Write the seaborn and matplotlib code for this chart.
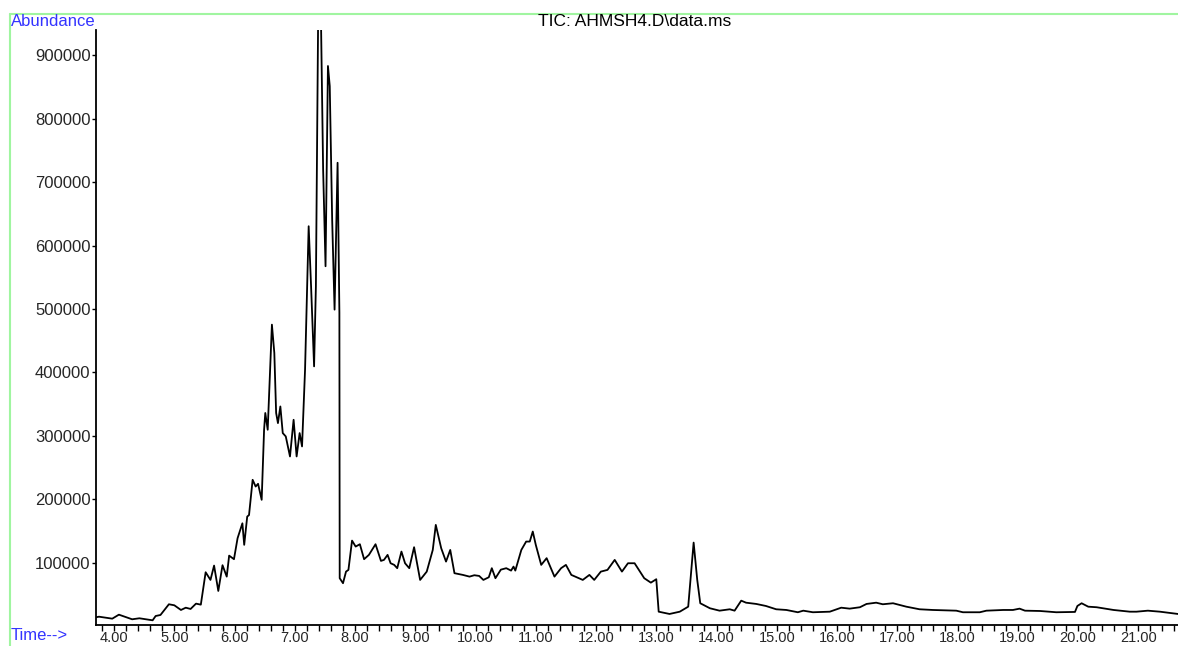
import matplotlib
matplotlib.use("Agg")
import matplotlib.pyplot as plt
from matplotlib.lines import Line2D
from matplotlib.ticker import MultipleLocator, FormatStrFormatter
import pandas as pd
import seaborn as sns

# retention time (min) and abundance
time_min = [3.70, 3.75, 3.97, 4.08, 4.30, 4.42, 4.64, 4.69, 4.77, 4.91, 5.00, 5.11,
            5.19, 5.27, 5.36, 5.44, 5.52, 5.60, 5.66, 5.73, 5.80, 5.87, 5.91, 5.99,
            6.05, 6.13, 6.16, 6.21, 6.24, 6.30, 6.35, 6.39, 6.45, 6.49, 6.51, 6.55,
            6.62, 6.66, 6.69, 6.72, 6.76, 6.80, 6.85, 6.92, 6.98, 7.03, 7.08, 7.12,
            7.17, 7.23, 7.27, 7.32, 7.35, 7.39, 7.43, 7.47, 7.51, 7.55, 7.58, 7.62,
            7.66, 7.71, 7.74, 7.745, 7.80, 7.85, 7.89, 7.95, 8.01, 8.08, 8.15, 8.23,
            8.34, 8.43, 8.48, 8.54, 8.59, 8.65, 8.70, 8.77, 8.83, 8.90, 8.98, 9.08,
            9.19, 9.29, 9.34, 9.43, 9.51, 9.58, 9.65, 9.79, 9.90, 9.98, 10.06, 10.13,
            10.22, 10.27, 10.33, 10.42, 10.51, 10.59, 10.63, 10.66, 10.76, 10.84, 10.90,
            10.95, 11.00, 11.09, 11.18, 11.31, 11.42, 11.50, 11.59, 11.68, 11.78, 11.89,
            11.97, 12.08, 12.19, 12.31, 12.43, 12.53, 12.64, 12.80, 12.91, 13.00, 13.04,
            13.22, 13.39, 13.53, 13.62, 13.68, 13.73, 13.89, 14.05, 14.22, 14.30, 14.41,
            14.49, 14.66, 14.82, 14.99, 15.16, 15.35, 15.44, 15.60, 15.88, 16.07, 16.21,
            16.38, 16.49, 16.65, 16.76, 16.93, 17.15, 17.37, 17.59, 17.98, 18.09, 18.37,
            18.48, 18.76, 18.92, 19.03, 19.12, 19.37, 19.64, 19.95, 19.99, 20.06, 20.17,
            20.31, 20.59, 20.86, 20.97, 21.16, 21.36, 21.66]
abundance = [13800, 14700, 11600, 17900, 10600, 12200, 9000, 15800, 17400, 34300, 32700, 25300,
             28900, 26900, 35300, 33700, 84800, 72700, 95300, 55300, 95900, 77900, 111000, 105400,
             138500, 162000, 128000, 172600, 175000, 230600, 220000, 224300, 199000, 309500, 336000, 309500,
             475300, 430600, 336000, 320000, 346300, 304300, 299000, 267400, 325300, 267400, 304300, 283200,
             404300, 630500, 535800, 409500, 535800, 990000, 985000, 720000, 567400, 883200, 851600, 641100,
             499000, 730600, 493800, 75400, 67500, 85800, 88500, 134700, 125300, 129000, 105400, 112200,
             129000, 102700, 104300, 112200, 99000, 96400, 91200, 117400, 99000, 91200, 124300, 72700,
             85800, 120000, 159500, 122700, 101600, 120000, 83300, 80600, 77900, 80100, 79000, 72700,
             76900, 91200, 75400, 88900, 91200, 87400, 93700, 87400, 120000, 133200, 133200,
             149000, 128000, 96400, 107000, 77900, 91200, 96400, 80600, 76900, 72700, 80600,
             72700, 85800, 88500, 104300, 85800, 99000, 99000, 75400, 68400, 73800, 22600,
             19000, 22600, 30500, 131600, 72700, 35900, 28000, 24200, 26400, 24200, 40000,
             36800, 34800, 31600, 26400, 25300, 21700, 24200, 21700, 22600, 28900, 27400,
             29600, 34800, 36800, 34300, 35900, 30500, 26400, 25300, 24200, 21700, 21700,
             24200, 25300, 25300, 27400, 24200, 23700, 21700, 22200, 31600, 35900, 30500,
             29600, 25300, 22600, 22600, 24200, 22600, 19000]

y_ticks = [100000, 200000, 300000, 400000, 500000, 600000, 700000, 800000, 900000]

df = pd.DataFrame({"Time": time_min, "Abundance": abundance})

sns.set_theme(style="white")
plt.rcParams["font.family"] = ["Liberation Sans", "DejaVu Sans"]

fig = plt.figure(figsize=(11.78, 6.46), dpi=100)
ax = fig.add_axes([96 / 1178, 1 - 625 / 646, 1 - 96 / 1178, (625 - 30) / 646])

sns.lineplot(data=df, x="Time", y="Abundance", ax=ax, color="black",
             linewidth=1.3, estimator=None, sort=False)

ax.set_xlim(3.70, 21.66)
ax.set_ylim(1600, 940000)
ax.set_xlabel("")
ax.set_ylabel("")
ax.xaxis.set_major_locator(MultipleLocator(1.0))
ax.xaxis.set_minor_locator(MultipleLocator(0.2))
ax.xaxis.set_major_formatter(FormatStrFormatter("%.2f"))
ax.set_yticks(y_ticks)
ax.set_yticklabels([str(v) for v in y_ticks])

for s in ["top", "right"]:
    ax.spines[s].set_visible(False)
for s in ["left", "bottom"]:
    ax.spines[s].set_color("black")
    ax.spines[s].set_linewidth(1.3)

ax.tick_params(axis="x", which="major", direction="out", length=4, width=1,
               color="black", labelsize=10.5, pad=0.5, bottom=True)
ax.tick_params(axis="x", which="minor", direction="out", length=4, width=1,
               color="black", bottom=True)
ax.tick_params(axis="y", which="major", direction="out", length=3, width=1,
               color="black", labelsize=12, pad=1, left=True)

# green frame of the instrument report
green = "#a0f5a0"
fig.add_artist(Line2D([10 / 1178, 10 / 1178], [0, 1 - 14 / 646], color=green, lw=1.5))
fig.add_artist(Line2D([10 / 1178, 1], [1 - 14 / 646, 1 - 14 / 646], color=green, lw=1.5))

fig.text(11 / 1178, 1 - 22 / 646, "Abundance", color="#3333ff", fontsize=12, va="center", ha="left")
fig.text(11 / 1178, 1 - 636 / 646, "Time-->", color="#3333ff", fontsize=12, va="center", ha="left")
fig.text(635 / 1178, 1 - 22 / 646, "TIC: AHMSH4.D\\data.ms", color="black", fontsize=12.5,
         va="center", ha="center")

plt.savefig("out.png", dpi=100)
plt.close()
